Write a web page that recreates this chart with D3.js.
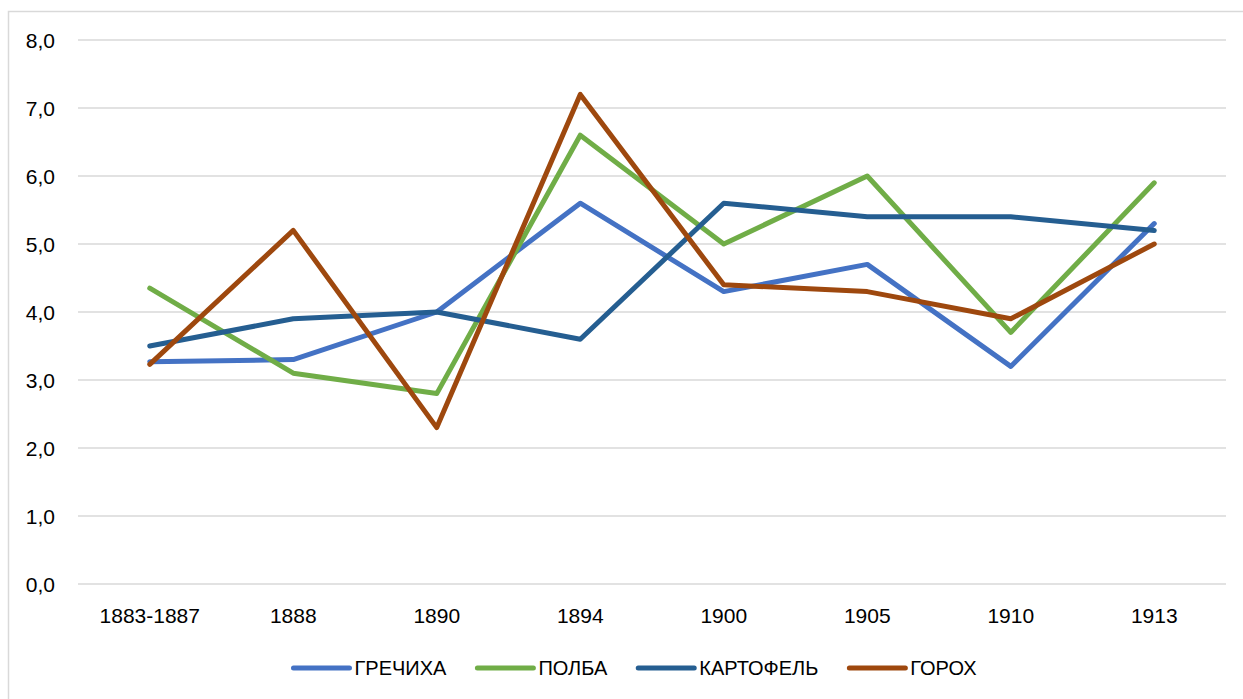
<!DOCTYPE html>
<html>
<head>
<meta charset="utf-8">
<script src="https://cdn.jsdelivr.net/npm/d3@7"></script>
<style>
  html, body { margin: 0; padding: 0; background: #fff; }
  svg { display: block; }
  text { font-family: "Liberation Sans", Arial, sans-serif; fill: #000; }
</style>
</head>
<body>
<svg id="chart" width="1243" height="699"></svg>
<script>
const categories = ["1883-1887", "1888", "1890", "1894", "1900", "1905", "1910", "1913"];
const seriesNames = ["ГРЕЧИХА", "ПОЛБА", "КАРТОФЕЛЬ", "ГОРОХ"];
const grechikha = [3.27, 3.3, 4.0, 5.6, 4.3, 4.7, 3.2, 5.3];
const polba = [4.35, 3.1, 2.8, 6.6, 5.0, 6.0, 3.7, 5.9];
const kartofel = [3.5, 3.9, 4.0, 3.6, 5.6, 5.4, 5.4, 5.2];
const gorokh = [3.23, 5.2, 2.3, 7.2, 4.4, 4.3, 3.9, 5.0];
const yTicks = [0, 1, 2, 3, 4, 5, 6, 7, 8];
const colors = ["#4472C4", "#70AD47", "#255E91", "#9E480E"];

const series = [grechikha, polba, kartofel, gorokh].map((v, i) => ({ name: seriesNames[i], values: v, color: colors[i] }));

const svg = d3.select("#chart");

// chart area border
svg.append("rect")
  .attr("x", 8.5).attr("y", 11.5).attr("width", 1300).attr("height", 800)
  .attr("fill", "none").attr("stroke", "#d9d9d9").attr("stroke-width", 1.5);

const plot = { left: 78, right: 1226, top: 40, bottom: 584 };

const x = d3.scaleBand().domain(categories).range([plot.left, plot.right]).padding(0);
const y = d3.scaleLinear().domain([0, 8]).range([plot.bottom, plot.top]);

// gridlines
svg.append("g")
  .selectAll("line").data(yTicks).join("line")
  .attr("x1", plot.left).attr("x2", plot.right)
  .attr("y1", d => y(d)).attr("y2", d => y(d))
  .attr("stroke", "#d9d9d9").attr("stroke-width", 1.5);

// y axis labels
const yAxis = d3.axisLeft(y).tickValues(yTicks).tickSize(0).tickPadding(0)
  .tickFormat(d => d3.format(".1f")(d).replace(".", ","));
const gy = svg.append("g").attr("transform", `translate(55,0)`).call(yAxis);
gy.select(".domain").remove();
gy.selectAll("text").attr("font-size", 21).attr("font-family", "Liberation Sans, Arial, sans-serif").attr("fill", "#000").attr("dy", "0.36em");

// x axis labels
const xAxis = d3.axisBottom(x).tickSize(0).tickPadding(0);
const gx = svg.append("g").attr("transform", `translate(0,${plot.bottom})`).call(xAxis);
gx.select(".domain").remove();
gx.selectAll("text").attr("font-size", 21).attr("font-family", "Liberation Sans, Arial, sans-serif").attr("fill", "#000").attr("y", 39).attr("dy", 0);

// lines
const line = d3.line()
  .x((d, i) => x(categories[i]) + x.bandwidth() / 2)
  .y(d => y(d));

svg.append("g").selectAll("path").data(series).join("path")
  .attr("d", d => line(d.values))
  .attr("fill", "none")
  .attr("stroke", d => d.color)
  .attr("stroke-width", 5)
  .attr("stroke-linejoin", "round")
  .attr("stroke-linecap", "round");

// legend
const legend = svg.append("g");
const lineLen = 56, gapText = 5, gapItem = 31, legendY = 668;
let cx = 0;
const items = [];
series.forEach(s => {
  const g = legend.append("g");
  g.append("line").attr("x1", 0).attr("x2", lineLen).attr("y1", 0).attr("y2", 0)
    .attr("stroke", s.color).attr("stroke-width", 5).attr("stroke-linecap", "round");
  const t = g.append("text").attr("x", lineLen + gapText).attr("y", 0).attr("dy", "0.36em")
    .attr("font-size", 20).text(s.name);
  const w = t.node().getComputedTextLength();
  g.attr("transform", `translate(${cx},${legendY})`);
  cx += lineLen + gapText + w + gapItem;
});
const totalW = cx - gapItem;
legend.attr("transform", `translate(${635 - totalW / 2},0)`);
</script>
</body>
</html>
